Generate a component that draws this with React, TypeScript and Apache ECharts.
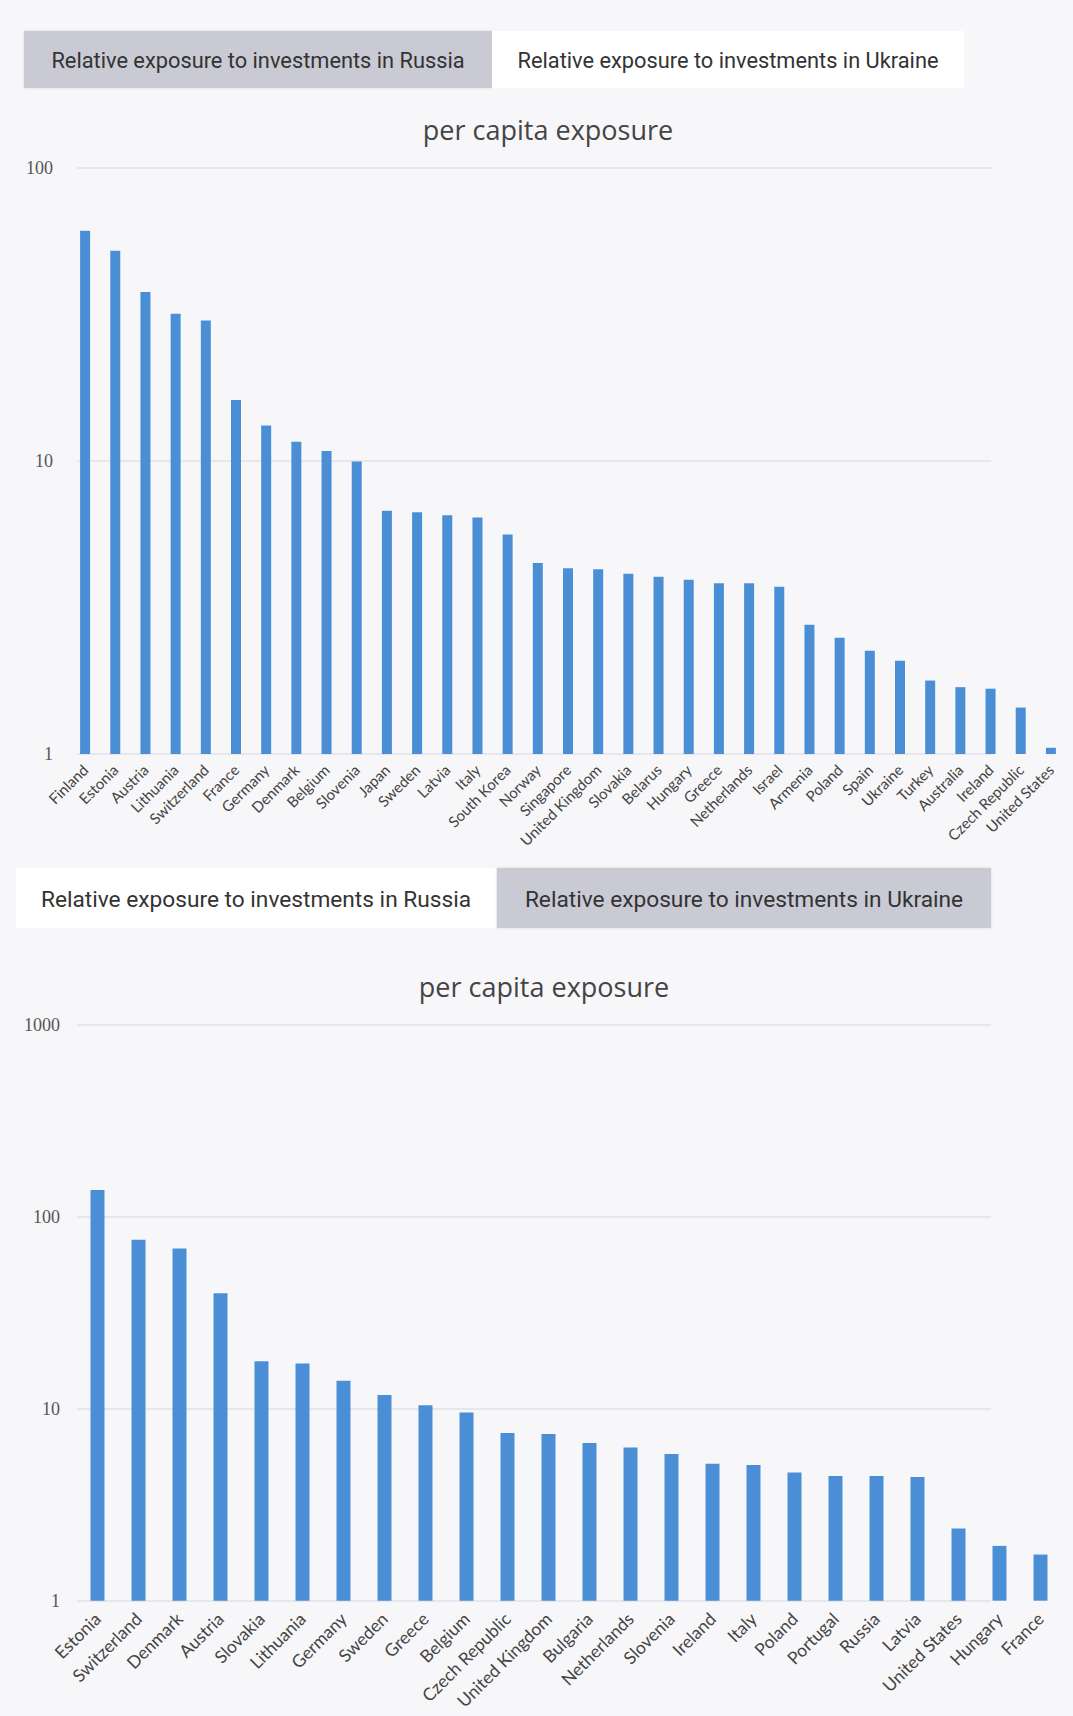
import React, { useEffect, useRef } from "react";
import * as echarts from "echarts";

const russiaCountries = [
  "Finland", "Estonia", "Austria", "Lithuania", "Switzerland", "France", "Germany", "Denmark",
  "Belgium", "Slovenia", "Japan", "Sweden", "Latvia", "Italy", "South Korea", "Norway",
  "Singapore", "United Kingdom", "Slovakia", "Belarus", "Hungary", "Greece", "Netherlands",
  "Israel", "Armenia", "Poland", "Spain", "Ukraine", "Turkey", "Australia", "Ireland",
  "Czech Republic", "United States",
];
const russiaValues = [
  60.8, 52.0, 37.6, 31.7, 30.1, 16.1, 13.2, 11.6,
  10.8, 9.95, 6.75, 6.68, 6.52, 6.4, 5.6, 4.48,
  4.3, 4.27, 4.12, 4.02, 3.93, 3.82, 3.82,
  3.72, 2.76, 2.49, 2.25, 2.08, 1.78, 1.69, 1.67,
  1.44, 1.05,
];

const ukraineCountries = [
  "Estonia", "Switzerland", "Denmark", "Austria", "Slovakia", "Lithuania", "Germany", "Sweden",
  "Greece", "Belgium", "Czech Republic", "United Kingdom", "Bulgaria", "Netherlands", "Slovenia",
  "Ireland", "Italy", "Poland", "Portugal", "Russia", "Latvia", "United States", "Hungary", "France",
];
const ukraineValues = [
  138, 76, 68.5, 40, 17.7, 17.2, 14.0, 11.8,
  10.45, 9.58, 7.47, 7.38, 6.63, 6.29, 5.81,
  5.17, 5.1, 4.65, 4.47, 4.46, 4.41, 2.38, 1.93, 1.74,
];

const tabRussia = "Relative exposure to investments in Russia";
const tabUkraine = "Relative exposure to investments in Ukraine";
const chartTitle = "per capita exposure";

const BAR = "#4a8fd6";
const TAB_GRAY = "#c9cad3";
const BG = "#f7f7f9";

export default function App() {
  const ref = useRef<HTMLDivElement>(null);
  useEffect(() => {
    if (!ref.current) return;
    const chart = echarts.init(ref.current, undefined, { renderer: "svg" });
    const yLabel = {
      fontFamily: "Liberation Serif", fontSize: 18, color: "#555", margin: 17,
      formatter: (v: number) => String(v),
    };
    const split = { show: true, lineStyle: { color: "#e2e2e6", width: 1.5 } };
    const hiddenX = (g: number) => ({
      type: "value", gridIndex: g, min: 0, max: 1, show: false,
      splitLine: { show: false },
    });
    const gridLinesY = (g: number, max: number) => ({
      type: "log", gridIndex: g, logBase: 10, min: 1, max,
      axisLine: { show: false }, axisTick: { show: false }, axisLabel: { show: false },
      splitLine: split,
    });
    chart.setOption({
      animation: false,
      backgroundColor: BG,
      grid: [
        { left: 70, right: 7, top: 167.5, bottom: 962 },
        { left: 77, right: 12, top: 1025, bottom: 115.3 },
        { left: 77, right: 82, top: 167.5, bottom: 962 },
        { left: 77, right: 82, top: 1025, bottom: 115.3 },
      ],
      xAxis: [
        {
          type: "category", gridIndex: 0, data: russiaCountries,
          axisLine: { show: false }, axisTick: { show: false },
          axisLabel: { rotate: 45, interval: 0, fontFamily: "Lato", fontSize: 15, color: "#444", margin: 13 },
        },
        {
          type: "category", gridIndex: 1, data: ukraineCountries,
          axisLine: { show: false }, axisTick: { show: false },
          axisLabel: { rotate: 45, interval: 0, fontFamily: "Lato", fontSize: 17.5, color: "#444", margin: 15 },
        },
        hiddenX(2),
        hiddenX(3),
      ],
      yAxis: [
        {
          type: "log", gridIndex: 0, logBase: 10, min: 1, max: 100,
          axisLine: { show: false }, axisTick: { show: false },
          axisLabel: yLabel, splitLine: { show: false },
        },
        {
          type: "log", gridIndex: 1, logBase: 10, min: 1, max: 1000,
          axisLine: { show: false }, axisTick: { show: false },
          axisLabel: yLabel, splitLine: { show: false },
        },
        gridLinesY(2, 100),
        gridLinesY(3, 1000),
      ],
      series: [
        {
          type: "bar", xAxisIndex: 0, yAxisIndex: 0, data: russiaValues,
          barWidth: 10, itemStyle: { color: BAR }, z: 3,
        },
        {
          type: "bar", xAxisIndex: 1, yAxisIndex: 1, data: ukraineValues,
          barWidth: 14, itemStyle: { color: BAR }, z: 3,
        },
      ],
      graphic: [
        { type: "rect", shape: { x: 24, y: 31, width: 468, height: 57 }, style: { fill: TAB_GRAY, shadowBlur: 3, shadowColor: "rgba(0,0,0,0.12)" } },
        { type: "rect", shape: { x: 492, y: 31, width: 472, height: 57 }, style: { fill: "#ffffff" } },
        { type: "text", x: 258, y: 60, style: { text: tabRussia, fontFamily: "Roboto", fontSize: 21.8, fill: "#333", textAlign: "center", textVerticalAlign: "middle" } },
        { type: "text", x: 728, y: 60, style: { text: tabUkraine, fontFamily: "Roboto", fontSize: 21.8, fill: "#333", textAlign: "center", textVerticalAlign: "middle" } },
        { type: "text", x: 548, y: 129, style: { text: chartTitle, fontFamily: "Open Sans", fontSize: 27, fill: "#444", textAlign: "center", textVerticalAlign: "middle" } },
        { type: "rect", shape: { x: 16, y: 868, width: 480, height: 60 }, style: { fill: "#ffffff" } },
        { type: "rect", shape: { x: 497, y: 868, width: 494, height: 60 }, style: { fill: TAB_GRAY, shadowBlur: 3, shadowColor: "rgba(0,0,0,0.12)" } },
        { type: "text", x: 256, y: 899, style: { text: tabRussia, fontFamily: "Roboto", fontSize: 22.7, fill: "#333", textAlign: "center", textVerticalAlign: "middle" } },
        { type: "text", x: 744, y: 899, style: { text: tabUkraine, fontFamily: "Roboto", fontSize: 22.7, fill: "#333", textAlign: "center", textVerticalAlign: "middle" } },
        { type: "text", x: 544, y: 986, style: { text: chartTitle, fontFamily: "Open Sans", fontSize: 27, fill: "#444", textAlign: "center", textVerticalAlign: "middle" } },
      ],
    });
    return () => chart.dispose();
  }, []);
  return (
    <div
      ref={ref}
      style={{ position: "fixed", left: 0, top: 0, width: 1073, height: 1716 }}
    />
  );
}
